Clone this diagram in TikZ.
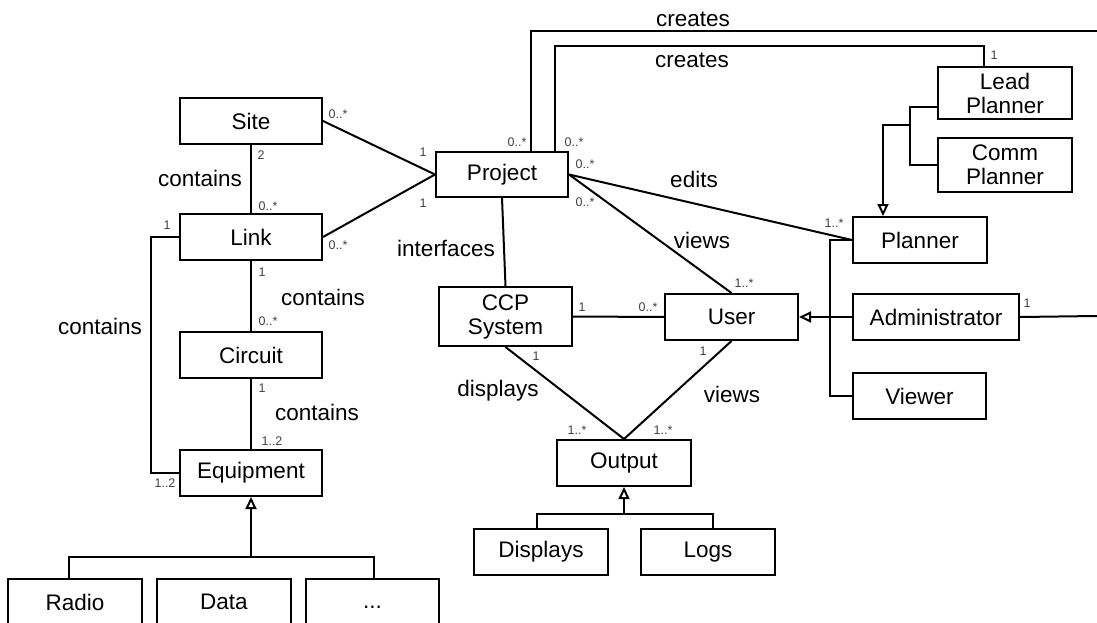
\documentclass[tikz,border=0pt]{standalone}
\usepackage{fontspec}
\setmainfont{Liberation Sans}
\usetikzlibrary{arrows.meta}
\begin{document}
\begin{tikzpicture}[x=1pt,y=-1pt,
  box/.style={draw, line width=2pt, minimum height=46pt, inner sep=0pt, align=center, font=\fontsize{22.5}{24}\selectfont},
  lbl/.style={inner sep=0pt, font=\fontsize{22.5}{24}\selectfont},
  mult/.style={inner sep=0pt, text=black!75, font=\fontsize{12.5}{14}\selectfont},
  conn/.style={line width=2pt},
  gen/.style={line width=2pt, -{Triangle[open, width=11pt, length=12pt]}},
]
\useasboundingbox (0,0) rectangle (1097,623);
% classes
\node[box, minimum width=142pt] (site) at (251,121) {Site};
\node[box, minimum width=142pt] (link) at (251,237) {Link};
\node[box, minimum width=142pt] (circuit) at (251,355) {Circuit};
\node[box, minimum width=142pt] (equip) at (251,473) {Equipment};
\node[box, minimum width=134pt] (radio) at (75,602) {Radio};
\node[box, minimum width=134pt] (data) at (224,602) {Data};
\node[box, minimum width=133pt] (more) at (372.5,602) {\raisebox{-6pt}[0pt][0pt]{...}};
\node[box, minimum width=132pt, minimum height=45pt] (project) at (502,174.5) {Project};
\node[box, minimum width=133pt, minimum height=59pt] (ccp) at (505.5,316.5) {CCP\\System};
\node[box, minimum width=133pt] (user) at (731.5,317) {User};
\node[box, minimum width=134pt] (output) at (624,463) {Output};
\node[box, minimum width=134pt] (displays) at (541,552) {Displays};
\node[box, minimum width=134pt] (logs) at (708,552) {Logs};
\node[box, minimum width=134pt] (planner) at (920,240) {Planner};
\node[box, minimum width=134pt, minimum height=52pt] (lead) at (1005,93) {Lead\\Planner};
\node[box, minimum width=134pt, minimum height=54pt] (comm) at (1005,165) {Comm\\Planner};
\node[box, minimum width=166pt] (admin) at (936,317) {Administrator};
\node[box, minimum width=133pt] (viewer) at (919.5,396) {Viewer};
% helper coordinates
\coordinate (topR) at (1097,31);
\coordinate (adminR) at (1097,316);
\coordinate (eqbus) at (251,557);
\coordinate (outbus) at (624,514);
\coordinate (lbus) at (910,125);
\coordinate (ubus) at (830,317);
% associations
\draw[conn] (site.east) -- (project.west);
\draw[conn] (link.east) -- (project.west);
\draw[conn] (site.south) -- (link.north);
\draw[conn] (link.south) -- (circuit.north);
\draw[conn] (circuit.south) -- (equip.north);
\draw[conn] (link.west) -- ++(-28,0) |- (equip.west);
\draw[conn] (project.south) -- (ccp.north);
\draw[conn] (project.east) -- (planner.west);
\draw[conn] (project.east) -- (user.north);
\draw[conn] (ccp.east) -- (user.west);
\draw[conn] (ccp.south) -- (output.north);
\draw[conn] (user.south) -- (output.north);
\draw[conn] (admin.east) -- (adminR);
\draw[conn] ([xshift=-21pt]lead.north) -- ++(0,-20) -| ([xshift=53pt]project.north);
\draw[conn] ([xshift=29pt]project.north) |- (topR);
% generalizations
\draw[conn] ([xshift=-6pt]radio.north) |- (eqbus);
\draw[conn] ([xshift=1.5pt]more.north) |- (eqbus);
\draw[gen] (eqbus) -- (equip.south);
\draw[conn] ([xshift=-4pt]displays.north) |- (outbus);
\draw[conn] ([xshift=5pt]logs.north) |- (outbus);
\draw[gen] (outbus) -- (output.south);
\draw[gen] (admin.west) -- (user.east);
\draw[conn] (planner.west) -| (ubus) |- (viewer.west);
\draw[conn] ([yshift=-14pt]lead.west) -| (lbus);
\draw[conn] (comm.west) -| (lbus);
\draw[gen] (lbus) -| ([xshift=-37pt]planner.north);
% association labels
\node[lbl] (l1) at (693,19) {creates};
\node[lbl] (l2) at (692,60) {creates};
\node[lbl] (l3) at (694,179) {edits};
\node[lbl] (l4) at (702,240) {views};
\node[lbl] (l5) at (446,248) {interfaces};
\node[lbl] (l6) at (498,391) {displays};
\node[lbl] (l7) at (732,394) {views};
\node[lbl] (l8) at (200,178) {contains};
\node[lbl] (l9) at (323,297) {contains};
\node[lbl] (l10) at (100,326) {contains};
\node[lbl] (l11) at (317,412) {contains};
% multiplicities
\node[mult] (m1) at (338,114) {0..*};
\node[mult] (m2) at (423,152) {1};
\node[mult] (m3) at (423,203) {1};
\node[mult] (m4) at (338,245) {0..*};
\node[mult] (m5) at (261,155) {2};
\node[mult] (m6) at (268,206) {0..*};
\node[mult] (m7) at (167,225) {1};
\node[mult] (m8) at (262,272) {1};
\node[mult] (m9) at (268,321) {0..*};
\node[mult] (m10) at (262,388) {1};
\node[mult] (m11) at (272,441) {1..2};
\node[mult] (m12) at (165,483) {1..2};
\node[mult] (m13) at (517,142) {0..*};
\node[mult] (m14) at (574,142) {0..*};
\node[mult] (m15) at (585,164) {0..*};
\node[mult] (m16) at (585,202) {0..*};
\node[mult] (m17) at (834,223) {1..*};
\node[mult] (m18) at (744,283) {1..*};
\node[mult] (m19) at (582,307) {1};
\node[mult] (m20) at (648,307) {0..*};
\node[mult] (m21) at (536,356) {1};
\node[mult] (m22) at (703,351) {1};
\node[mult] (m23) at (577,430) {1..*};
\node[mult] (m24) at (663,430) {1..*};
\node[mult] (m25) at (1027,303) {1};
\node[mult] (m26) at (994,55) {1};
\end{tikzpicture}
\end{document}
